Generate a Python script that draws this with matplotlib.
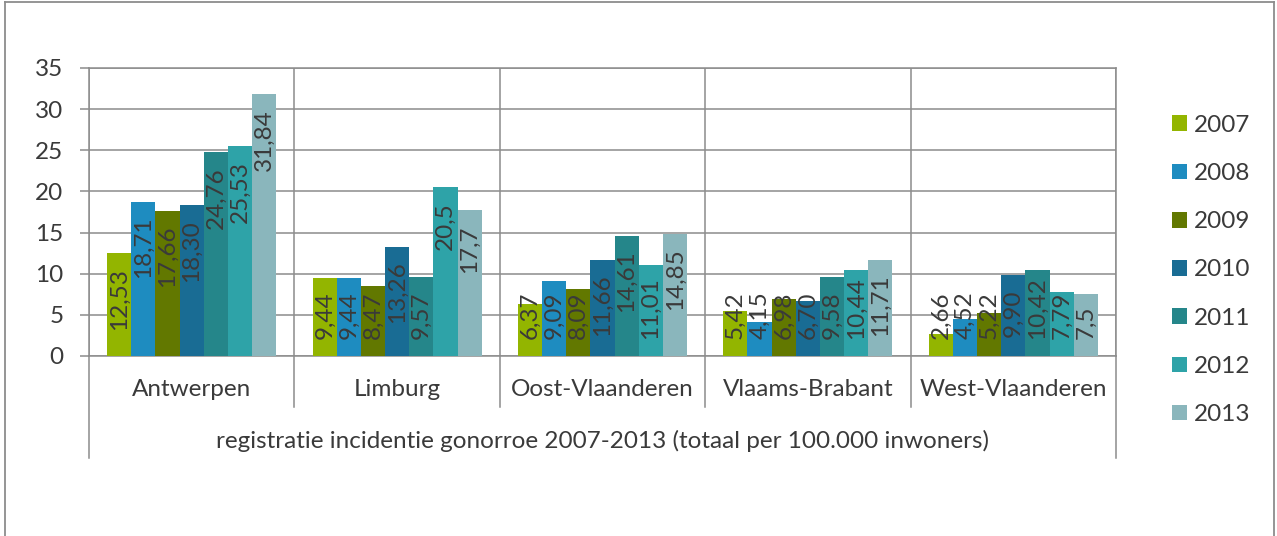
import matplotlib
matplotlib.use("Agg")
import matplotlib.pyplot as plt
from matplotlib.lines import Line2D
import numpy as np

plt.rcParams['font.family'] = ['Lato', 'DejaVu Sans']

provinces = ["Antwerpen", "Limburg", "Oost-Vlaanderen", "Vlaams-Brabant", "West-Vlaanderen"]
years = ["2007", "2008", "2009", "2010", "2011", "2012", "2013"]
v2007 = [12.53, 9.44, 6.37, 5.42, 2.66]
v2008 = [18.71, 9.44, 9.09, 4.15, 4.52]
v2009 = [17.66, 8.47, 8.09, 6.98, 5.22]
v2010 = [18.30, 13.26, 11.66, 6.70, 9.90]
v2011 = [24.76, 9.57, 14.61, 9.58, 10.42]
v2012 = [25.53, 20.5, 11.01, 10.44, 7.79]
v2013 = [31.84, 17.7, 14.85, 11.71, 7.5]
labels2007 = ["12,53", "9,44", "6,37", "5,42", "2,66"]
labels2008 = ["18,71", "9,44", "9,09", "4,15", "4,52"]
labels2009 = ["17,66", "8,47", "8,09", "6,98", "5,22"]
labels2010 = ["18,30", "13,26", "11,66", "6,70", "9,90"]
labels2011 = ["24,76", "9,57", "14,61", "9,58", "10,42"]
labels2012 = ["25,53", "20,5", "11,01", "10,44", "7,79"]
labels2013 = ["31,84", "17,7", "14,85", "11,71", "7,5"]
group_label = "registratie incidentie gonorroe 2007-2013 (totaal per 100.000 inwoners)"
yticks = [0, 5, 10, 15, 20, 25, 30, 35]

series = [v2007, v2008, v2009, v2010, v2011, v2012, v2013]
series_labels = [labels2007, labels2008, labels2009, labels2010, labels2011, labels2012, labels2013]
colors = ["#93B500", "#1E8CC0", "#627800", "#196C94", "#25868A", "#2EA3A8", "#8AB6BC"]

W, H = 1277, 536
fig = plt.figure(figsize=(W / 100, H / 100), dpi=100)
ax_l, ax_r, ax_t, ax_b = 89, 1116, 68, 356
ax = fig.add_axes([ax_l / W, 1 - ax_b / H, (ax_r - ax_l) / W, (ax_b - ax_t) / H])

grid_c = "#8C8C8C"
txt_c = "#3A3A3A"
fs = 17.5

x = np.arange(len(provinces))
n = len(series)
bw = 1.0 / (n + 1.5)
bars = []
for i, (vals, col, yr) in enumerate(zip(series, colors, years)):
    b = ax.bar(x + (i - (n - 1) / 2) * bw, vals, width=bw, color=col, label=yr,
               zorder=3, linewidth=0)
    bars.append(b)

ax.set_xlim(-0.5, len(provinces) - 0.5)
ax.set_ylim(0, 35)
ax.set_yticks(yticks)
ax.set_yticklabels([str(t) for t in yticks], fontsize=fs, color=txt_c)
ax.tick_params(axis='y', length=6.5, width=1.1, color=grid_c, pad=12)
ax.set_xticks([])
ax.yaxis.grid(True, color=grid_c, linewidth=1.1, zorder=0)
for s in ax.spines.values():
    s.set_color(grid_c)
    s.set_linewidth(1.1)

# vertical category boundaries inside plot
for b in np.arange(-0.5, len(provinces), 1.0):
    ax.axvline(b, color=grid_c, linewidth=1.1, zorder=1)

# category axis (multi-level)
tr = ax.get_xaxis_transform()
ph = ax_b - ax_t
y_sep = -(407 - ax_b) / ph
y_out = -(458 - ax_b) / ph
y_cat = -(390 - ax_b) / ph
y_grp = -(441 - ax_b) / ph
for b in np.arange(-0.5, len(provinces), 1.0):
    yend = y_out if b in (-0.5, len(provinces) - 0.5) else y_sep
    ax.add_line(Line2D([b, b], [0, yend], transform=tr, color=grid_c,
                       linewidth=1.1, clip_on=False))
for xi, name in zip(x, provinces):
    ax.text(xi, y_cat, name, transform=tr, ha='center', va='center',
            fontsize=fs, color=txt_c)
ax.text((len(provinces) - 1) / 2, y_grp, group_label, transform=tr,
        ha='center', va='center', fontsize=fs, color=txt_c)

# data labels
fig.canvas.draw()
renderer = fig.canvas.get_renderer()
px_per_unit = ph / 35.0
for b, labs in zip(bars, series_labels):
    for rect, lab in zip(b, labs):
        v = rect.get_height()
        cx = rect.get_x() + rect.get_width() / 2
        t = ax.text(cx, v - 1.8, lab, rotation=90, rotation_mode='anchor',
                    ha='right', va='center', fontsize=fs, color=txt_c, zorder=5)
        ext = t.get_window_extent(renderer)
        L = ext.height / px_per_unit
        if v - 1.8 - L < 2.1:
            t.set_y(2.1 + L)

# legend
leg = fig.legend(handles=[bb for bb in bars], labels=years, loc='center left',
                 bbox_to_anchor=(1172 / W, 1 - 270 / H), frameon=False,
                 fontsize=fs, labelcolor=txt_c, borderpad=0, borderaxespad=0,
                 handlelength=0.62, handleheight=0.62, handletextpad=0.3,
                 labelspacing=1.12)

# outer border
bc = "#8C8C8C"
fig.add_artist(Line2D([5 / W, 5 / W], [0, 1 - 2 / H], transform=fig.transFigure, color=bc, linewidth=1.3))
fig.add_artist(Line2D([5 / W, 1274 / W], [1 - 2 / H, 1 - 2 / H], transform=fig.transFigure, color=bc, linewidth=1.3))
fig.add_artist(Line2D([1274 / W, 1274 / W], [0, 1 - 2 / H], transform=fig.transFigure, color=bc, linewidth=1.3))

fig.savefig("out.png", dpi=100, facecolor='white')
